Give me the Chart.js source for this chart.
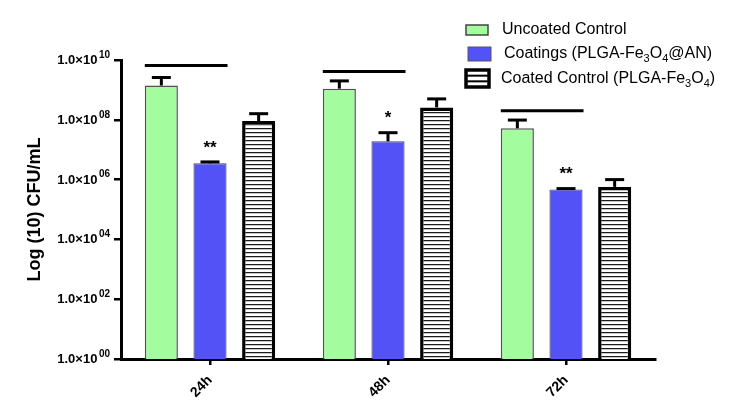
<!DOCTYPE html>
<html>
<head>
<meta charset="utf-8">
<script src="https://cdn.jsdelivr.net/npm/chart.js@4/dist/chart.umd.min.js"></script>
<style>
  html, body { margin: 0; padding: 0; background: #fff; }
  #wrap { width: 734px; height: 406px; position: relative; }
</style>
</head>
<body>
<div id="wrap"><canvas id="c" width="734" height="406"></canvas></div>
<script>
// ---- Data ----
const categories = ['24h', '48h', '72h'];
const seriesNames = ['Uncoated Control', 'Coatings (PLGA-Fe\u2083O\u2084@AN)', 'Coated Control (PLGA-Fe\u2083O\u2084)'];
const uncoatedValues = [1.4e9, 1.1e9, 5.2e7];
const uncoatedUpper  = [2.6e9, 2.0e9, 9.8e7];
const coatingValues  = [3.5e6, 1.9e7, 4.7e5];
const coatingUpper   = [3.9e6, 3.7e7, 5.0e5];
const coatedValues   = [9.1e7, 2.6e8, 5.7e5];
const coatedUpper    = [1.6e8, 5.0e8, 1.0e6];
const sigLineValues  = [6.6e9, 4.1e9, 2.0e8];
const sigStars       = ['**', '*', '**'];
const yTickValues    = [1e0, 1e2, 1e4, 1e6, 1e8, 1e10];
const yTickExponents = ['00', '02', '04', '06', '08', '10'];
const yTitle = 'Log (10) CFU/mL';

// ---- Pattern for striped bars ----
function makeStripes() {
  const p = document.createElement('canvas');
  p.width = 8; p.height = 4;
  const g = p.getContext('2d');
  g.fillStyle = '#fff'; g.fillRect(0, 0, 8, 4);
  g.fillStyle = '#1a1a1a'; g.fillRect(0, 0, 8, 1);
  g.fillStyle = '#a0a0a0'; g.fillRect(0, 1, 8, 0.6);
  return document.getElementById('c').getContext('2d').createPattern(p, 'repeat');
}
const stripes = makeStripes();

const GREEN = '#a3fd9f';
const BLUE = '#5252f6';
const upperBounds = [uncoatedUpper, coatingUpper, coatedUpper];

const FONT = '"Liberation Sans", Arial, sans-serif';

// ---- Plugins ----
const extras = {
  id: 'extras',
  afterDatasetsDraw(chart) {
    const ctx = chart.ctx;
    const y = chart.scales.y;
    ctx.save();
    ctx.strokeStyle = '#000';
    ctx.lineCap = 'butt';
    // error bars
    for (let d = 0; d < 3; d++) {
      const meta = chart.getDatasetMeta(d);
      meta.data.forEach((el, i) => {
        const top = y.getPixelForValue(upperBounds[d][i]);
        ctx.lineWidth = 3;
        ctx.beginPath();
        ctx.moveTo(el.x, el.y);
        ctx.lineTo(el.x, top);
        ctx.stroke();
        ctx.beginPath();
        ctx.moveTo(el.x - 9.5, top);
        ctx.lineTo(el.x + 9.5, top);
        ctx.stroke();
      });
    }
    // significance lines + stars
    const m0 = chart.getDatasetMeta(0), m1 = chart.getDatasetMeta(1);
    categories.forEach((c, i) => {
      const a = m0.data[i], b = m1.data[i];
      const ly = y.getPixelForValue(sigLineValues[i]);
      ctx.lineWidth = 3;
      ctx.beginPath();
      ctx.moveTo(a.x - a.width / 2, ly);
      ctx.lineTo(b.x + b.width / 2 + 1, ly);
      ctx.stroke();
      const capTop = y.getPixelForValue(coatingUpper[i]);
      ctx.fillStyle = '#000';
      ctx.font = 'bold 17px ' + FONT;
      ctx.textAlign = 'center';
      ctx.textBaseline = 'middle';
      ctx.fillText(sigStars[i], b.x, capTop - 14);
    });
    ctx.restore();
  },
  afterDraw(chart) {
    const ctx = chart.ctx;
    const y = chart.scales.y;
    ctx.save();
    ctx.fillStyle = '#000';
    // y tick labels with superscript
    yTickValues.forEach((v, i) => {
      const py = y.getPixelForValue(v);
      const endX = 110;
      ctx.textAlign = 'right';
      ctx.textBaseline = 'middle';
      ctx.font = 'bold 10px ' + FONT;
      const supW = ctx.measureText(yTickExponents[i]).width;
      ctx.fillText(yTickExponents[i], endX, py - 5);
      ctx.font = 'bold 13px ' + FONT;
      ctx.fillText('1.0\u00d710', endX - supW - 1.5, py + 0.5);
    });
    // legend
    const rows = [
      { y: 30, box: [466, 25, 22, 10] },
      { y: 54, box: [468, 47, 23, 14] },
      { y: 79, box: [466, 70, 23, 17] }
    ];
    const textX = [502, 504, 501];
    rows.forEach((r, i) => {
      const [bx, by, bw, bh] = r.box;
      if (i === 0) {
        ctx.fillStyle = GREEN; ctx.fillRect(bx, by, bw, bh);
        ctx.strokeStyle = '#444'; ctx.lineWidth = 1.5; ctx.strokeRect(bx, by, bw, bh);
      } else if (i === 1) {
        ctx.fillStyle = BLUE; ctx.fillRect(bx, by, bw, bh);
        ctx.strokeStyle = '#556'; ctx.lineWidth = 1; ctx.strokeRect(bx, by, bw, bh);
      } else {
        ctx.fillStyle = '#fff'; ctx.fillRect(bx, by, bw, bh);
        ctx.fillStyle = '#000';
        for (let k = 1; k < 3; k++) ctx.fillRect(bx, by + k * bh / 3 - 1, bw, 2);
        ctx.strokeStyle = '#000'; ctx.lineWidth = 3.5; ctx.strokeRect(bx, by, bw, bh);
      }
      // text with subscripts
      let x = textX[i];
      const txt = seriesNames[i];
      ctx.fillStyle = '#000';
      ctx.textAlign = 'left';
      ctx.textBaseline = 'middle';
      for (const ch of txt) {
        const code = ch.charCodeAt(0);
        if (code >= 0x2080 && code <= 0x2089) {
          ctx.font = '11px ' + FONT;
          const d = String(code - 0x2080);
          ctx.fillText(d, x, r.y + 5);
          x += ctx.measureText(d).width;
        } else {
          ctx.font = '16px ' + FONT;
          ctx.fillText(ch, x, r.y);
          x += ctx.measureText(ch).width;
        }
      }
    });
    ctx.restore();
  }
};

new Chart(document.getElementById('c'), {
  type: 'bar',
  data: {
    labels: categories,
    datasets: [
      { label: seriesNames[0], data: uncoatedValues, backgroundColor: GREEN, borderColor: '#505050', borderWidth: 1.5 },
      { label: seriesNames[1], data: coatingValues, backgroundColor: BLUE, borderColor: '#45457a', borderWidth: 1.2 },
      { label: seriesNames[2], data: coatedValues, backgroundColor: stripes, borderColor: '#000', borderWidth: 3.5 }
    ]
  },
  options: {
    responsive: false,
    animation: false,
    devicePixelRatio: 1,
    layout: { padding: { top: 60, right: 79, left: 0, bottom: 0 } },
    datasets: { bar: { barPercentage: 0.68, categoryPercentage: 0.82 } },
    plugins: { legend: { display: false }, tooltip: { enabled: false } },
    scales: {
      x: {
        type: 'category',
        border: { display: true, color: '#000', width: 3 },
        grid: { display: true, offset: false, drawOnChartArea: false, drawTicks: true, tickLength: 6, color: '#000', lineWidth: 2.5 },
        ticks: { color: '#000', font: { family: FONT, size: 14, weight: 'bold' }, minRotation: 45, maxRotation: 45, padding: 7 },
        afterFit(s) { s.height = 47; }
      },
      y: {
        type: 'logarithmic',
        min: 1,
        max: 1e10,
        border: { display: true, color: '#000', width: 3 },
        grid: { display: true, drawOnChartArea: false, drawTicks: true, tickLength: 7, color: '#000', lineWidth: 2.5 },
        ticks: { display: false },
        afterBuildTicks(s) { s.ticks = yTickValues.map(v => ({ value: v })); },
        title: { display: true, text: yTitle, color: '#000', font: { family: FONT, size: 18, weight: 'bold' }, padding: { top: 24, bottom: 0 } },
        afterFit(s) { s.width = 121; }
      }
    }
  },
  plugins: [extras]
});
</script>
</body>
</html>
